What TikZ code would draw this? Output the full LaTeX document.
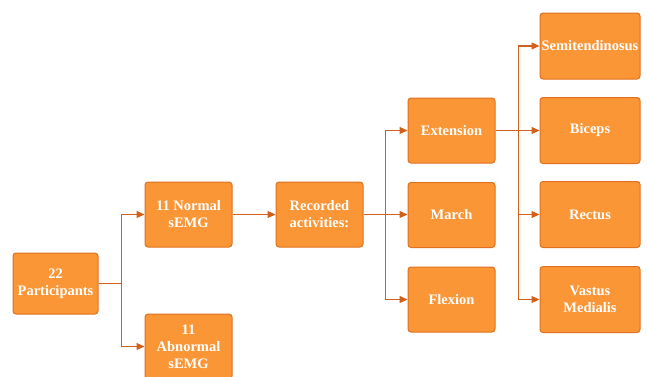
\documentclass[tikz,border=0pt]{standalone}
\usepackage{fontspec}
\setmainfont{Liberation Serif}
\usepackage{tikz}
\usetikzlibrary{positioning,arrows.meta,calc}

\definecolor{boxfill}{HTML}{FB9636}
\definecolor{boxline}{HTML}{E0701F}
\definecolor{arrowcol}{HTML}{D3601A}

\tikzset{
  stagebox/.style={draw=boxline, fill=boxfill, line width=1pt, rounded corners=3pt,
    minimum width=87pt, minimum height=65pt, align=center, text=white,
    font=\fontsize{14.5}{17}\selectfont\bfseries, inner sep=1pt},
  musclebox/.style={stagebox, minimum width=100pt, minimum height=66pt},
  conn/.style={draw=arrowcol, line width=1.1pt, -{Triangle[length=8pt,width=7pt]}}
}

\begin{document}
\begin{tikzpicture}[x=1pt, y=-1pt]
		\useasboundingbox (0,0) rectangle (647,376);

		% participants and groups
		\node[stagebox, minimum width=85pt, minimum height=61pt] (part) at (55.5,283.5) {22\\Participants};
		\node[stagebox] (norm) at (188.5,214.5) {11 Normal\\sEMG};
		\node[stagebox] (abn) at (188.5,346.5) {11\\Abnormal\\sEMG};

		% activities
		\node[stagebox] (rec) at (319.5,214.5) {Recorded\\activities:};
		\node[stagebox] (ext) at (451.5,130.5) {Extension};
		\node[stagebox] (march) at (451.5,215) {March};
		\node[stagebox] (flex) at (451.5,299.5) {Flexion};

		% muscles
		\node[musclebox] (semi) at (590,46) {Semitendinosus};
		\node[musclebox] (bic) at (590,130.5) {Biceps};
		\node[musclebox] (rect) at (590,214.5) {Rectus};
		\node[musclebox] (vast) at (590,299.5) {Vastus\\Medialis};

		% branch points
		\coordinate (s1) at ($(part.east)+(23,0)$);
		\coordinate (s2) at ($(rec.east)+(22,0)$);
		\coordinate (s3) at ($(ext.east)+(23,0)$);

		\draw[conn] (part.east) -- (s1) |- (norm.west);
		\draw[conn] (part.east) -- (s1) |- (abn.west);
		\draw[conn] (norm.east) -- (rec.west);

		\draw[conn] (rec.east) -- (s2) |- (ext.west);
		\draw[conn] (rec.east) -- (march.west |- rec.east);
		\draw[conn] (rec.east) -- (s2) |- (flex.west);

		\draw[conn] (ext.east) -- (s3) |- (semi.west);
		\draw[conn] (ext.east) -- (bic.west);
		\draw[conn] (ext.east) -- (s3) |- (rect.west);
		\draw[conn] (ext.east) -- (s3) |- (vast.west);
	\end{tikzpicture}
\end{document}
